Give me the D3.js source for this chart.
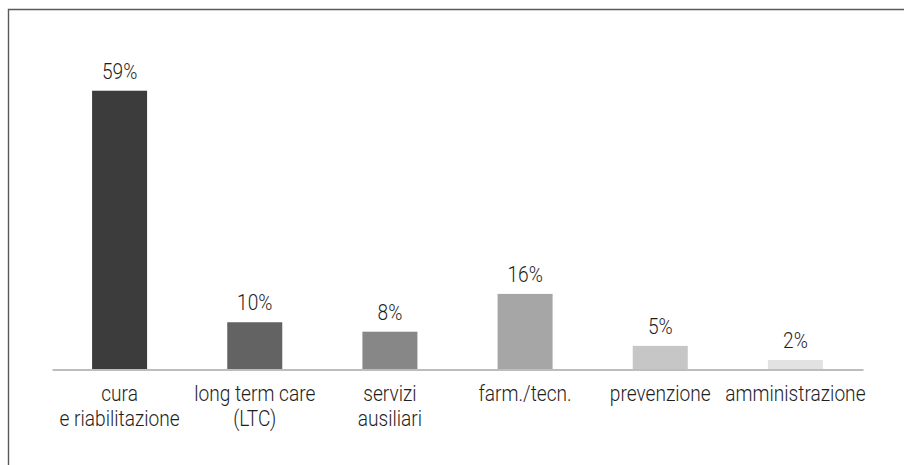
<!DOCTYPE html>
<html>
<head>
<meta charset="utf-8">
<script src="https://cdn.jsdelivr.net/npm/d3@7"></script>
<style>
  html, body { margin: 0; padding: 0; background: #fff; }
  svg { display: block; }
  .label { font-family: Roboto, "Open Sans", sans-serif; font-size: 22px; font-weight: 300; fill: #1e1e1e; }
</style>
</head>
<body>
<div id="chart-container"></div>
<script>
const categories = [
  ["cura", "e riabilitazione"],
  ["long term care", "(LTC)"],
  ["servizi", "ausiliari"],
  ["farm./tecn."],
  ["prevenzione"],
  ["amministrazione"],
];
const values = [59, 10, 8, 16, 5, 2];

const BAR_COLORS = ["#3c3c3c", "#636363", "#878787", "#a6a6a6", "#c6c6c6", "#e2e2e2"];

const WIDTH  = 904;
const HEIGHT = 465;
const AXIS_Y = 369.5;
const PLOT   = { left: 52, right: 863, top: 86 };
const LINE_HEIGHT = 25;
const SQUEEZE = 0.87;   // condensed look for the labels

const keys = categories.map(c => c.join(" "));

const svg = d3.select("#chart-container")
  .append("svg")
  .attr("width", WIDTH)
  .attr("height", HEIGHT);

// Frame (top and left only)
svg.append("path")
  .attr("d", `M8.5,${HEIGHT} V9.5 H${WIDTH}`)
  .attr("fill", "none")
  .attr("stroke", "#5a5a5a")
  .attr("stroke-width", 1.4);

const x = d3.scaleBand()
  .domain(keys)
  .range([PLOT.left, PLOT.right])
  .paddingInner(0.593)
  .paddingOuter(0.2965);

const y = d3.scaleLinear()
  .domain([0, 60])
  .range([AXIS_Y, PLOT.top]);

const cx = i => x(keys[i]) + x.bandwidth() / 2;

// Bars
svg.selectAll(".bar")
  .data(values)
  .enter().append("rect")
  .attr("class", "bar")
  .attr("x", (d, i) => x(keys[i]))
  .attr("y", d => y(d))
  .attr("width", x.bandwidth())
  .attr("height", d => y(0) - y(d))
  .attr("fill", (d, i) => BAR_COLORS[i]);

// Value labels
svg.selectAll(".value")
  .data(values)
  .enter().append("text")
  .attr("class", "label value")
  .attr("text-anchor", "middle")
  .attr("transform", (d, i) => `translate(${cx(i)}, ${y(d) - 12}) scale(${SQUEEZE}, 1)`)
  .text(d => d + "%");

// Baseline axis
const axis = svg.append("g")
  .attr("transform", `translate(0, ${AXIS_Y})`)
  .call(d3.axisBottom(x).tickSize(0).tickFormat(""));
axis.select(".domain")
  .attr("stroke", "#bdbdbd")
  .attr("stroke-width", 2);

// Category labels
const cats = svg.selectAll(".cat")
  .data(categories)
  .enter().append("text")
  .attr("class", "label cat")
  .attr("text-anchor", "middle")
  .attr("transform", (d, i) => `translate(${cx(i)}, ${AXIS_Y + 31.5}) scale(${SQUEEZE}, 1)`);

cats.selectAll("tspan")
  .data(d => d)
  .enter().append("tspan")
  .attr("x", 0)
  .attr("y", (d, i) => i * LINE_HEIGHT)
  .text(d => d);
</script>
</body>
</html>
